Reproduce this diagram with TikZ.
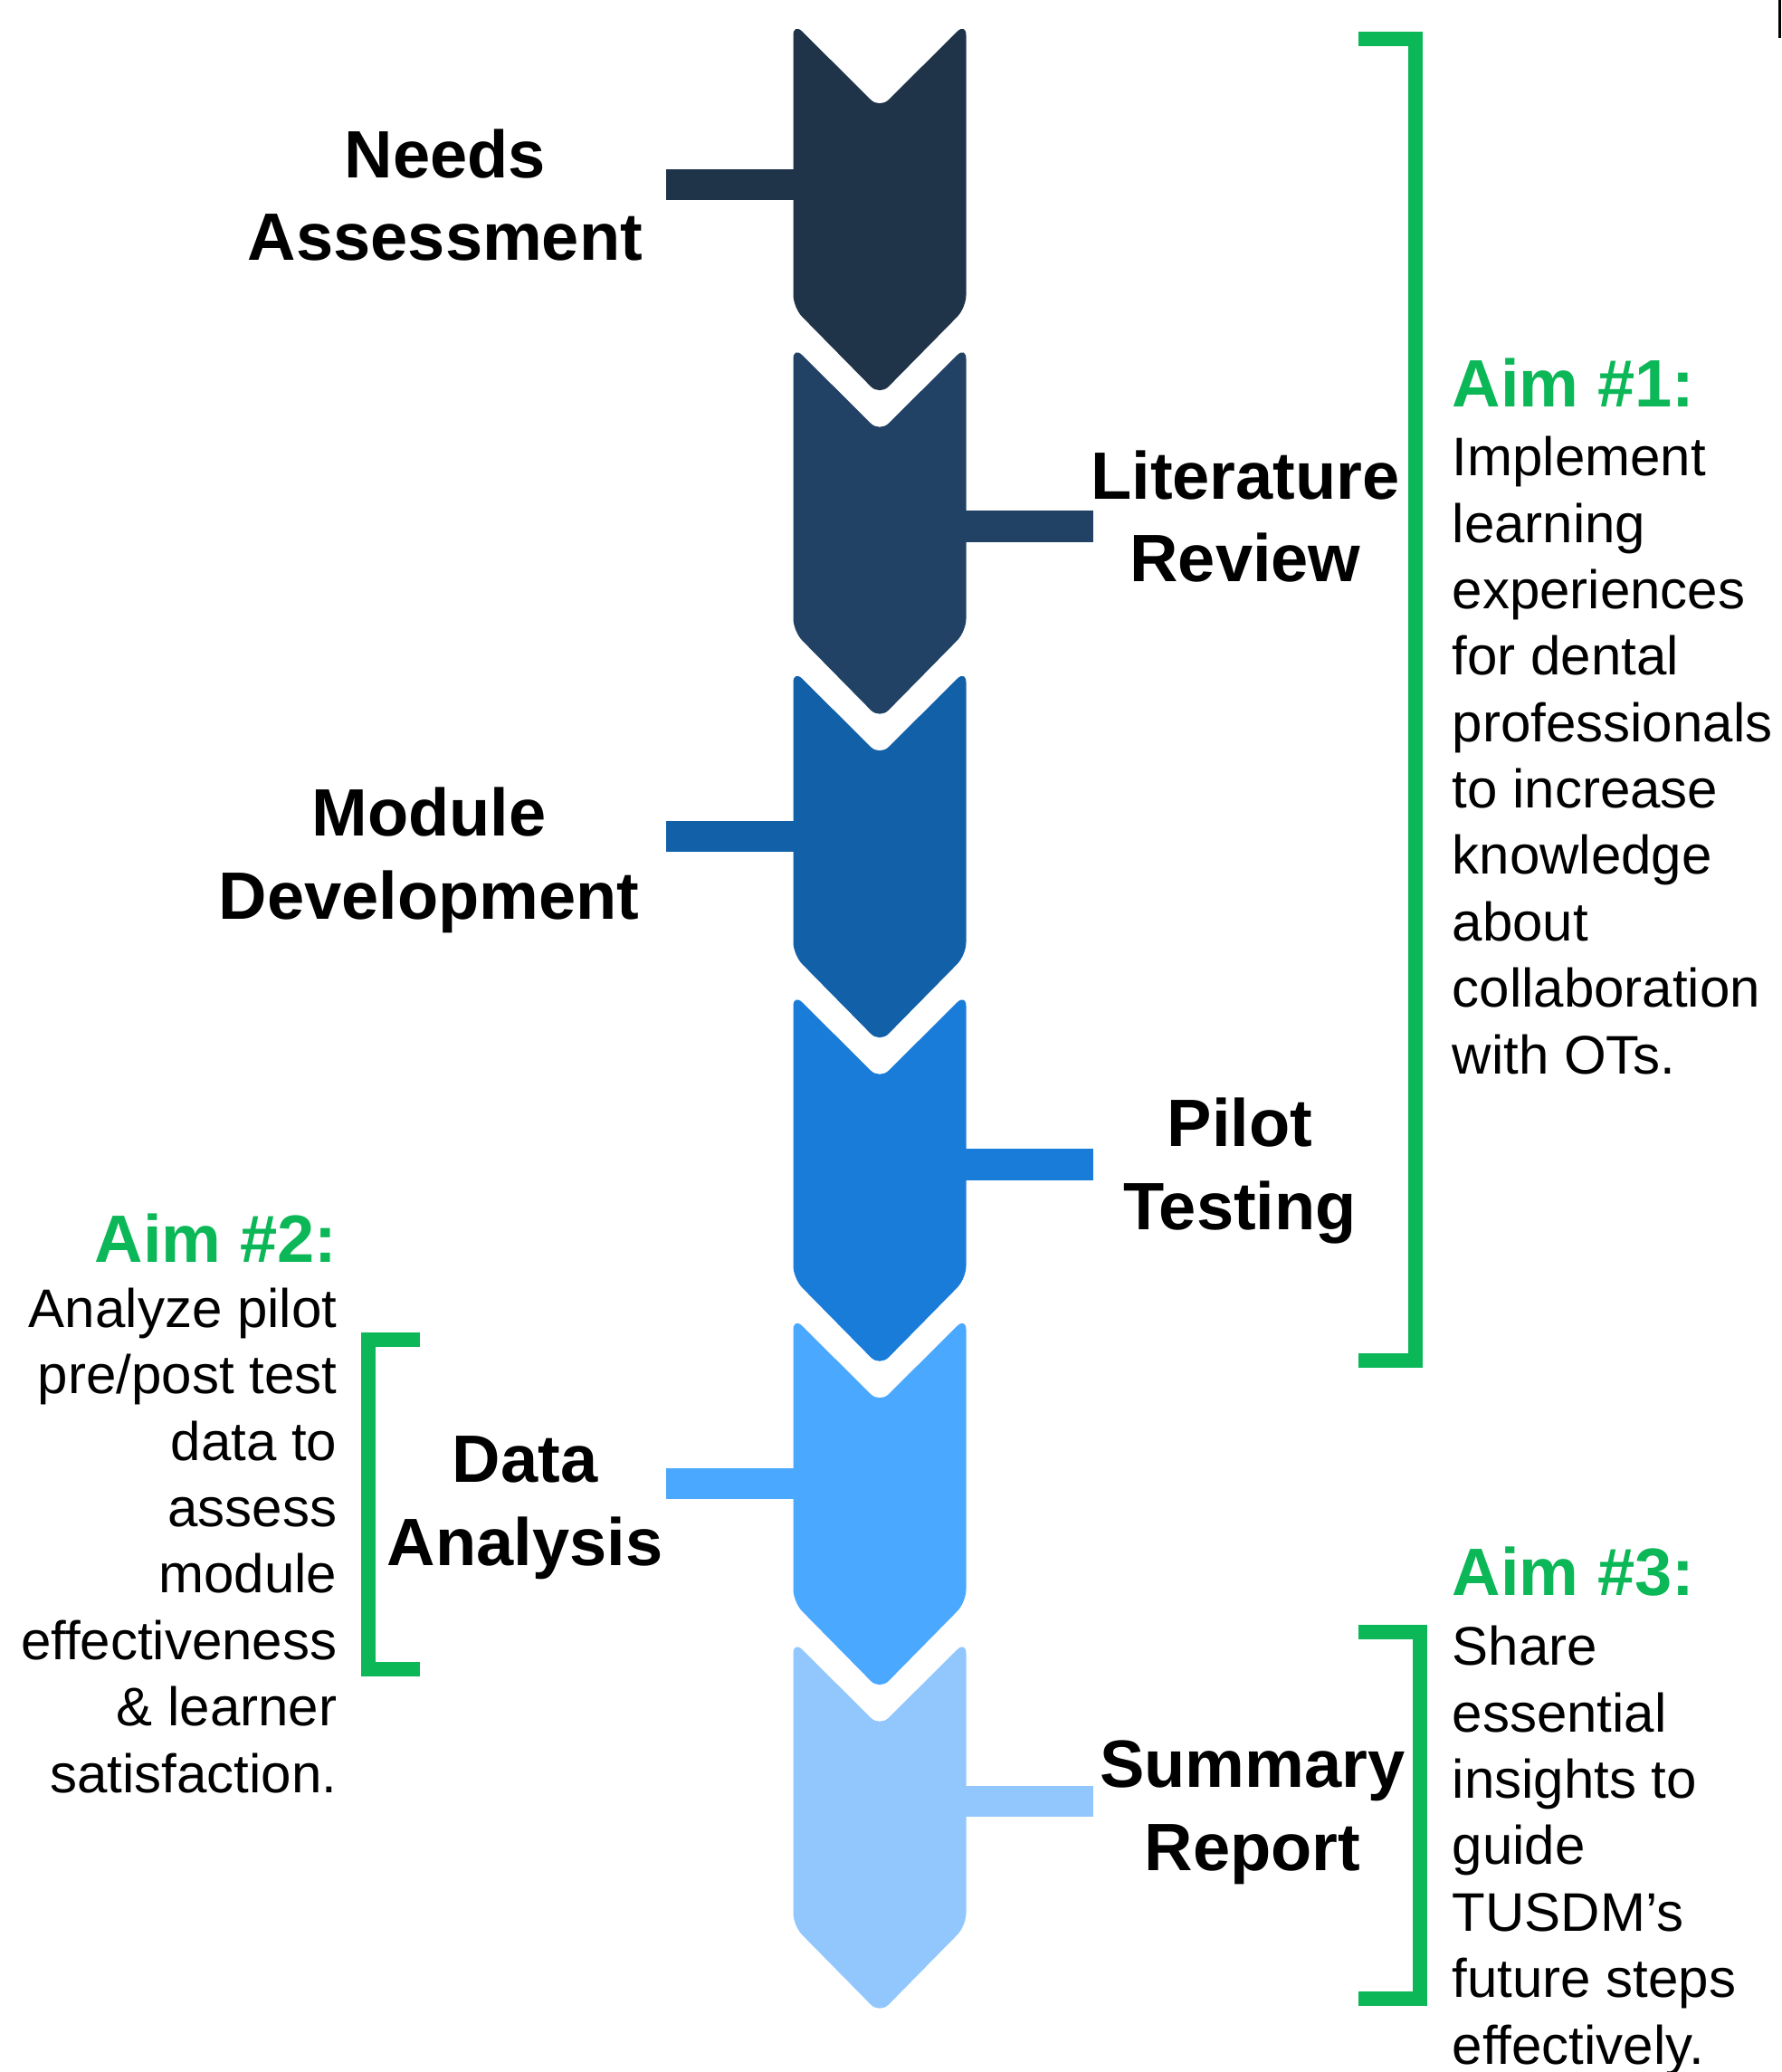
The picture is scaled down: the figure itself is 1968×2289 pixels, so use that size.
\documentclass[tikz,border=0pt]{standalone}
\usepackage{fontspec}
\setmainfont{Liberation Sans}
\definecolor{stepA}{RGB}{31,51,73}
\definecolor{stepB}{RGB}{33,66,100}
\definecolor{stepC}{RGB}{18,96,168}
\definecolor{stepD}{RGB}{26,124,217}
\definecolor{stepE}{RGB}{75,168,255}
\definecolor{stepF}{RGB}{145,199,253}
\definecolor{aimgreen}{RGB}{11,183,87}

\begin{document}
\begin{tikzpicture}[x=0.01cm,y=-0.01cm]

      \tikzset{chevron/.pic={\path[pic actions, rounded corners=0.14cm] (-95.5,0) -- (0,95) -- (95.5,0) -- (95.5,315) -- (0,412) -- (-95.5,315) -- cycle;},
               bar/.style={line width=0.34cm},
               stepname/.style={font=\bfseries\fontsize{21.05}{25.9}\selectfont, align=center, anchor=base, inner sep=0pt},
               aimhead/.style={font=\bfseries\fontsize{21.05}{25.9}\selectfont, text=aimgreen, inner sep=0pt},
               aimtext/.style={font=\fontsize{17.07}{20.86}\selectfont, inner sep=0pt},
               bracket/.style={draw=aimgreen, line width=0.16cm}}
      \useasboundingbox (0,0) rectangle (1968,2289);
% Chevrons
      	\pic[fill=stepA] at (972,25) {chevron};
      	\pic[fill=stepB] at (972,382.5) {chevron};
      	\pic[fill=stepC] at (972,740) {chevron};
      	\pic[fill=stepD] at (972,1097.5) {chevron};
      	\pic[fill=stepE] at (972,1455) {chevron};
      	\pic[fill=stepF] at (972,1812.5) {chevron};
% Bars
	%Midte
		\coordinate (m1) at (972,204.5);
		\coordinate (m2) at (972,581.5);
		\coordinate (m3) at (972,924);
		\coordinate (m4) at (972,1286.5);
		\coordinate (m5) at (972,1638.5);
		\coordinate (m6) at (972,1990);
	%Ender
		\coordinate (e1) at (736,204.5);
		\coordinate (e2) at (1208,581.5);
		\coordinate (e3) at (736,924);
		\coordinate (e4) at (1208,1286.5);
		\coordinate (e5) at (736,1638.5);
		\coordinate (e6) at (1208,1990);
		\draw[bar, stepA] (m1) -- (e1);
		\draw[bar, stepB] (m2) -- (e2);
		\draw[bar, stepC] (m3) -- (e3);
		\draw[bar, stepD] (m4) -- (e4);
		\draw[bar, stepE] (m5) -- (e5);
		\draw[bar, stepF] (m6) -- (e6);
% Steps (anchored on the last line)
		\node[stepname] (needs) at (492,288) {Needs\\Assessment};
		\node[stepname] (lit) at (1376,643) {Literature\\Review};
		\node[stepname] (module) at (474,1015) {Module\\Development};
		\node[stepname] (pilot) at (1370,1358) {Pilot\\Testing};
		\node[stepname] (data) at (580,1729) {Data\\Analysis};
		\node[stepname] (summary) at (1384,2066) {Summary\\Report};
% Aims
	%Aim 1
		\draw[bracket] (1501,43) -- (1563.5,43) -- (1563.5,1503) -- (1501,1503);
		\node[aimhead, anchor=base west] (aim1) at (1604,450) {Aim \#1:};
		\node[aimtext, anchor=base west, align=left] (aim1text) at (1604,1186) {Implement\\learning\\experiences\\for dental\\professionals\\to increase\\knowledge\\about\\collaboration\\with OTs.};
	%Aim 2
		\draw[bracket] (464,1480) -- (407,1480) -- (407,1844) -- (464,1844);
		\node[aimhead, anchor=base east] (aim2) at (373,1394) {Aim \#2:};
		\node[aimtext, anchor=base east, align=right] (aim2text) at (373,1980) {Analyze pilot\\pre/post test\\data to\\assess\\module\\effectiveness\\\& learner\\satisfaction.};
	%Aim 3
		\draw[bracket] (1501,1803) -- (1569,1803) -- (1569,2208) -- (1501,2208);
		\node[aimhead, anchor=base west] (aim3) at (1604,1762) {Aim \#3:};
		\node[aimtext, anchor=base west, align=left] (aim3text) at (1604,2280) {Share\\essential\\insights to\\guide\\TUSDM’s\\future steps\\effectively.};
% Kant
		\fill (1965,0) rectangle (1968,42);

\end{tikzpicture}
\end{document}
